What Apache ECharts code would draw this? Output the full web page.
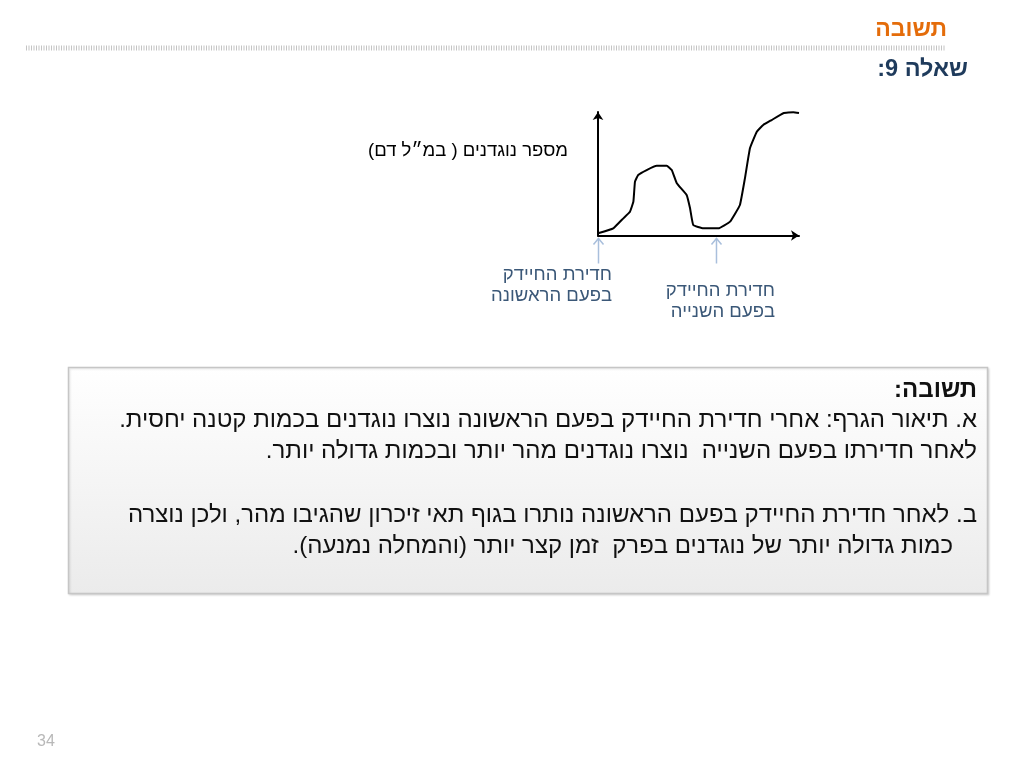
<!DOCTYPE html>
<html>
<head>
<meta charset="utf-8">
<script src="https://cdn.jsdelivr.net/npm/echarts@6/dist/echarts.min.js"></script>
<style>
html,body{margin:0;padding:0;background:#fff;}
#chart{width:1024px;height:768px;}
</style>
</head>
<body>
<div id="chart" dir="rtl"></div>
<script>
// time (arbitrary units, 0..100) and antibody amount (arbitrary units, 0..100)
const timeX = [0, 7.6, 12.6, 15.9, 17.6, 18.4, 20, 24.2, 29.2, 34.2, 36.7, 39.2, 44.1, 45.8, 47.4, 52.4, 59.9, 65.7, 70.6, 73.1, 75.6, 79, 82.2, 86.4, 92.2, 97.2, 100];
const antibodies = [1.8, 5.8, 13.9, 19.3, 27.4, 43.6, 49, 53, 56.5, 56.5, 53, 42.3, 32.8, 22, 8.5, 5.8, 5.8, 11.2, 24.7, 46.3, 70.6, 84, 89.5, 93.5, 99, 99.8, 99.2];
// moments the bacterium entered the body
const arrowTimes = [0, 58.7];
const arrowLabels = [
  ['חדירת החיידק', 'בפעם הראשונה'],
  ['חדירת החיידק', 'בפעם השנייה']
];
const yAxisTitle = 'מספר נוגדנים ( במ״ל דם)';
const slideTitle = 'תשובה';
const slideSubtitle = 'שאלה 9:';
const answerLines = [
  'תשובה:',
  'א. תיאור הגרף: אחרי חדירת החיידק בפעם הראשונה נוצרו נוגדנים בכמות קטנה יחסית.',
  'לאחר חדירתו בפעם השנייה  נוצרו נוגדנים מהר יותר ובכמות גדולה יותר.',
  '',
  'ב. לאחר חדירת החיידק בפעם הראשונה נותרו בגוף תאי זיכרון שהגיבו מהר, ולכן נוצרה',
  'כמות גדולה יותר של נוגדנים בפרק  זמן קצר יותר (והמחלה נמנעה).'
];
const pageNumber = '34';

const FONT = '"Liberation Sans", Arial, "DejaVu Sans", sans-serif';
const chart = echarts.init(document.getElementById('chart'), null, {renderer: 'canvas'});

const seriesData = timeX.map((t, i) => [t, antibodies[i]]);
const axisCommon = {
  type: 'value', min: 0, max: 100,
  axisLine: {show: true, symbol: ['none', 'arrow'], symbolSize: [8, 8], lineStyle: {color: '#000', width: 2}},
  axisTick: {show: false}, axisLabel: {show: false}, splitLine: {show: false}
};

const option = {
  animation: false,
  backgroundColor: '#ffffff',
  grid: {left: 598, right: 225, top: 112, bottom: 532.5, containLabel: false},
  xAxis: Object.assign({}, axisCommon),
  yAxis: Object.assign({}, axisCommon),
  series: [{
    type: 'line',
    data: seriesData,
    symbol: 'none',
    smooth: 0.1,
    lineStyle: {color: '#000', width: 2},
    clip: false
  }]
};
chart.setOption(option);

function buildGraphics() {
  const g = [];
  // header
  g.push({type: 'text', x: 947, y: 30, style: {text: slideTitle, fill: '#e46c0a', font: 'bold 23px ' + FONT, align: 'right', verticalAlign: 'middle'}});
  g.push({type: 'line', shape: {x1: 26, y1: 48, x2: 945, y2: 48}, style: {stroke: '#c4c4c4', lineWidth: 5, lineDash: [1, 1.5]}});
  g.push({type: 'text', x: 968, y: 70, style: {text: slideSubtitle, fill: '#1f3b5c', font: 'bold 23.5px ' + FONT, align: 'right', verticalAlign: 'middle'}});
  // y axis title
  g.push({type: 'text', x: 568, y: 151, style: {text: yAxisTitle, fill: '#000', font: '18.5px ' + FONT, align: 'right', verticalAlign: 'middle'}});
  // arrows marking bacterial entry
  const labelRight = [612, 775];
  const labelTop = [275, 291];
  arrowTimes.forEach((t, i) => {
    const p = chart.convertToPixel({gridIndex: 0}, [t, 0]);
    const x = p[0] + 0.5, y0 = p[1] + 3;
    g.push({type: 'line', shape: {x1: x, y1: y0, x2: x, y2: y0 + 25}, style: {stroke: '#a9bfdc', lineWidth: 1.5}});
    g.push({type: 'polyline', shape: {points: [[x - 5, y0 + 6], [x, y0], [x + 5, y0 + 6]]}, style: {stroke: '#a9bfdc', lineWidth: 1.5, fill: null}});
    arrowLabels[i].forEach((s, j) => {
      g.push({type: 'text', x: labelRight[i], y: labelTop[i] + j * 21, style: {text: s, fill: '#3b5878', font: '18.5px ' + FONT, align: 'right', verticalAlign: 'middle'}});
    });
  });
  // answer box
  g.push({type: 'rect', shape: {x: 68.5, y: 367.5, width: 919, height: 226},
    style: {fill: new echarts.graphic.LinearGradient(0, 0, 0, 1, [{offset: 0, color: '#ffffff'}, {offset: 1, color: '#ebebeb'}]),
      stroke: '#c6c6c6', lineWidth: 1.5, shadowColor: 'rgba(0,0,0,0.12)', shadowBlur: 2, shadowOffsetX: 1, shadowOffsetY: 1}});
  const lineY = [390, 420.5, 451, 483, 515, 546];
  const lineRight = [977, 977, 977, 977, 977, 953];
  answerLines.forEach((s, i) => {
    if (!s) return;
    g.push({type: 'text', x: lineRight[i], y: lineY[i], style: {text: s, fill: '#111', font: (i === 0 ? 'bold ' : '') + '24px ' + FONT, align: 'right', verticalAlign: 'middle'}});
  });
  // page number
  g.push({type: 'text', x: 46, y: 742, style: {text: pageNumber, fill: '#b8b8b8', font: '16px ' + FONT, align: 'center', verticalAlign: 'middle'}});
  return g;
}
chart.setOption({graphic: buildGraphics()});
</script>
</body>
</html>
